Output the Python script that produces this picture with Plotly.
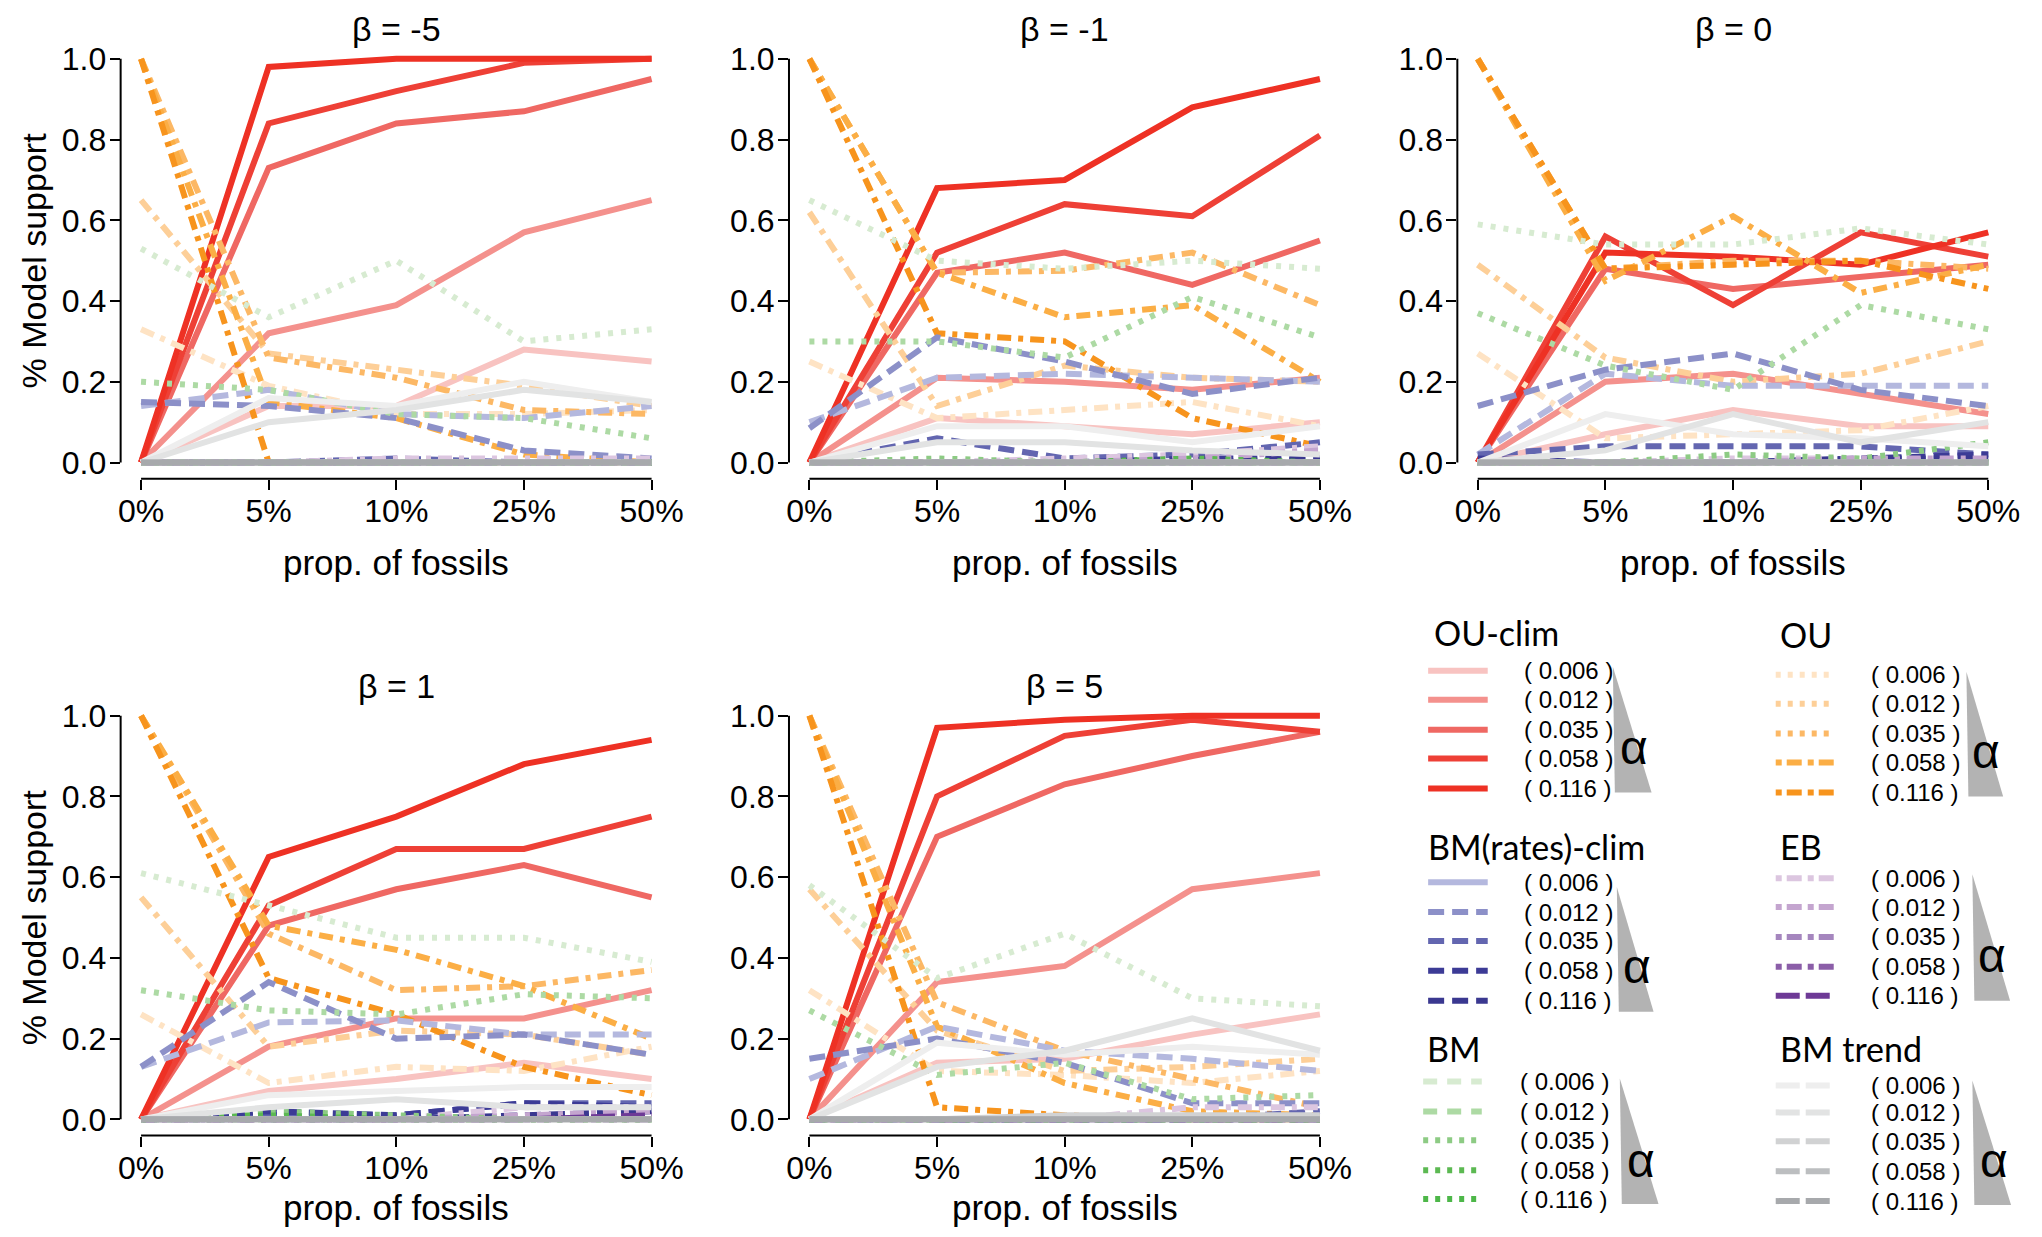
import plotly.graph_objects as go

# page is 2042x1237, the html body keeps an 8px margin round the figure
MARGE = 8
W, H = 2042 - 2 * MARGE, 1237 - 2 * MARGE

proportions = ["0%", "5%", "10%", "25%", "50%"]
alpha_values = ["0.006", "0.012", "0.035", "0.058", "0.116"]
beta_titles = ["β = -5", "β = -1", "β = 0", "β = 1", "β = 5"]
model_names = ["OU-clim", "OU", "BM(rates)-clim", "EB", "BM", "BM trend"]

# model support, one row per alpha (0.006, 0.012, 0.035, 0.058, 0.116)
# beta = -5
ouclim_m5 = [[0, 0.14, 0.14, 0.28, 0.25], [0, 0.32, 0.39, 0.57, 0.65], [0, 0.73, 0.84, 0.87, 0.95],
             [0, 0.84, 0.92, 0.99, 1.0], [0, 0.98, 1.0, 1.0, 1.0]]
ou_m5 = [[0.33, 0.19, 0.12, 0.12, 0.13], [0.65, 0.27, 0.23, 0.19, 0.14], [1.0, 0.26, 0.21, 0.13, 0.12],
         [1.0, 0.15, 0.11, 0.02, 0.0], [1.0, 0.0, 0.0, 0.0, 0.0]]
bmr_m5 = [[0.14, 0.18, 0.12, 0.11, 0.14], [0.15, 0.14, 0.11, 0.03, 0.01], [0, 0, 0.01, 0, 0],
          [0, 0, 0, 0, 0], [0, 0, 0, 0, 0]]
eb_m5 = [[0, 0, 0.01, 0.01, 0.01], [0, 0, 0, 0, 0], [0, 0, 0, 0, 0], [0, 0, 0, 0, 0], [0, 0, 0, 0, 0]]
bm_m5 = [[0.53, 0.36, 0.50, 0.30, 0.33], [0.20, 0.18, 0.12, 0.11, 0.06], [0, 0, 0, 0, 0],
         [0, 0, 0, 0, 0], [0, 0, 0, 0, 0]]
bmt_m5 = [[0, 0.16, 0.14, 0.20, 0.15], [0, 0.10, 0.13, 0.18, 0.15], [0, 0, 0, 0, 0],
          [0, 0, 0, 0, 0], [0, 0, 0, 0, 0]]

# beta = -1
ouclim_m1 = [[0, 0.11, 0.09, 0.07, 0.10], [0, 0.21, 0.20, 0.18, 0.21], [0, 0.47, 0.52, 0.44, 0.55],
             [0, 0.52, 0.64, 0.61, 0.81], [0, 0.68, 0.70, 0.88, 0.95]]
ou_m1 = [[0.25, 0.11, 0.13, 0.15, 0.09], [0.62, 0.14, 0.24, 0.21, 0.20], [1.0, 0.47, 0.475, 0.52, 0.39],
         [1.0, 0.47, 0.36, 0.39, 0.20], [1.0, 0.32, 0.30, 0.11, 0.04]]
bmr_m1 = [[0.10, 0.21, 0.22, 0.21, 0.20], [0.085, 0.31, 0.25, 0.17, 0.21], [0, 0.06, 0.01, 0.02, 0.05],
          [0, 0, 0, 0.01, 0.01], [0, 0, 0, 0, 0.01]]
eb_m1 = [[0, 0, 0.01, 0.02, 0.04], [0, 0, 0, 0.01, 0.03], [0, 0, 0, 0, 0], [0, 0, 0, 0, 0], [0, 0, 0, 0, 0]]
bm_m1 = [[0.65, 0.50, 0.48, 0.50, 0.48], [0.30, 0.30, 0.26, 0.41, 0.31], [0, 0.01, 0, 0, 0],
         [0, 0, 0, 0.01, 0], [0, 0, 0, 0, 0]]
bmt_m1 = [[0, 0.09, 0.09, 0.05, 0.09], [0, 0.05, 0.05, 0.03, 0.02], [0, 0, 0, 0, 0],
          [0, 0, 0, 0, 0], [0, 0, 0, 0, 0]]

# beta = 0
ouclim_0 = [[0, 0.07, 0.13, 0.09, 0.09], [0, 0.20, 0.22, 0.17, 0.12], [0, 0.48, 0.43, 0.46, 0.49],
            [0, 0.56, 0.39, 0.57, 0.51], [0, 0.52, 0.51, 0.49, 0.57]]
ou_0 = [[0.27, 0.06, 0.07, 0.08, 0.14], [0.49, 0.26, 0.20, 0.22, 0.30], [1.0, 0.48, 0.50, 0.50, 0.48],
        [1.0, 0.45, 0.61, 0.42, 0.49], [1.0, 0.48, 0.49, 0.50, 0.43]]
bmr_0 = [[0.02, 0.22, 0.19, 0.19, 0.19], [0.14, 0.23, 0.27, 0.18, 0.14], [0.02, 0.04, 0.04, 0.04, 0.02],
         [0.01, 0, 0, 0.01, 0.02], [0, 0, 0, 0.01, 0.01]]
eb_0 = [[0, 0, 0.01, 0.01, 0], [0, 0, 0, 0.01, 0.01], [0, 0, 0, 0, 0], [0, 0, 0, 0, 0], [0, 0, 0, 0, 0]]
bm_0 = [[0.59, 0.54, 0.54, 0.58, 0.54], [0.37, 0.24, 0.18, 0.39, 0.33], [0, 0, 0.02, 0.01, 0.05],
        [0, 0, 0, 0, 0], [0, 0, 0, 0, 0]]
bmt_0 = [[0, 0.12, 0.07, 0.06, 0.04], [0, 0.03, 0.12, 0.05, 0.10], [0, 0, 0, 0, 0],
         [0, 0, 0, 0, 0], [0, 0, 0, 0, 0]]

# beta = 1
ouclim_p1 = [[0, 0.07, 0.10, 0.14, 0.10], [0, 0.18, 0.25, 0.25, 0.32], [0, 0.48, 0.57, 0.63, 0.55],
             [0, 0.53, 0.67, 0.67, 0.75], [0, 0.65, 0.75, 0.88, 0.94]]
ou_p1 = [[0.26, 0.09, 0.13, 0.12, 0.18], [0.55, 0.18, 0.22, 0.21, 0.16], [1.0, 0.46, 0.32, 0.33, 0.37],
         [1.0, 0.48, 0.42, 0.33, 0.20], [1.0, 0.35, 0.26, 0.13, 0.06]]
bmr_p1 = [[0.13, 0.24, 0.245, 0.21, 0.21], [0.13, 0.34, 0.20, 0.21, 0.16], [0, 0.01, 0.01, 0.04, 0.04],
          [0, 0.02, 0.01, 0.04, 0.03], [0, 0, 0, 0.01, 0.02]]
eb_p1 = [[0, 0, 0, 0.03, 0.03], [0, 0, 0, 0.01, 0.02], [0, 0, 0, 0, 0], [0, 0, 0, 0, 0], [0, 0, 0, 0, 0.01]]
bm_p1 = [[0.61, 0.53, 0.45, 0.45, 0.39], [0.32, 0.27, 0.26, 0.31, 0.30], [0, 0.02, 0.01, 0, 0],
         [0, 0.01, 0, 0, 0], [0, 0, 0, 0, 0]]
bmt_p1 = [[0, 0.06, 0.07, 0.08, 0.08], [0, 0.03, 0.05, 0.03, 0.03], [0, 0, 0, 0, 0],
          [0, 0, 0, 0, 0], [0, 0, 0, 0, 0]]

# beta = 5
ouclim_p5 = [[0, 0.14, 0.15, 0.21, 0.26], [0, 0.34, 0.38, 0.57, 0.61], [0, 0.70, 0.83, 0.90, 0.96],
             [0, 0.80, 0.95, 0.99, 0.96], [0, 0.97, 0.99, 1.0, 1.0]]
ou_p5 = [[0.32, 0.12, 0.11, 0.09, 0.12], [0.57, 0.22, 0.12, 0.13, 0.15], [1.0, 0.29, 0.17, 0.10, 0.03],
         [1.0, 0.23, 0.09, 0.02, 0.01], [1.0, 0.03, 0.01, 0.0, 0.0]]
bmr_p5 = [[0.10, 0.23, 0.17, 0.15, 0.12], [0.15, 0.20, 0.14, 0.04, 0.04], [0, 0, 0, 0, 0.02],
          [0, 0, 0, 0, 0], [0, 0, 0, 0, 0]]
eb_p5 = [[0, 0, 0, 0.03, 0.03], [0, 0, 0, 0, 0], [0, 0, 0, 0, 0], [0, 0, 0, 0, 0], [0, 0, 0, 0, 0]]
bm_p5 = [[0.58, 0.35, 0.46, 0.30, 0.28], [0.27, 0.11, 0.14, 0.05, 0.06], [0, 0, 0, 0, 0],
         [0, 0, 0, 0, 0], [0, 0, 0, 0, 0]]
bmt_p5 = [[0, 0.19, 0.16, 0.18, 0.16], [0, 0.13, 0.17, 0.25, 0.17], [0, 0, 0.01, 0.01, 0.01],
          [0, 0, 0, 0, 0], [0, 0, 0, 0, 0]]

panels = [
    [ouclim_m5, ou_m5, bmr_m5, eb_m5, bm_m5, bmt_m5],
    [ouclim_m1, ou_m1, bmr_m1, eb_m1, bm_m1, bmt_m1],
    [ouclim_0, ou_0, bmr_0, eb_0, bm_0, bmt_0],
    [ouclim_p1, ou_p1, bmr_p1, eb_p1, bm_p1, bmt_p1],
    [ouclim_p5, ou_p5, bmr_p5, eb_p5, bm_p5, bmt_p5],
]

couleurs = [
    ["#F8C3C1", "#F4918D", "#EF6863", "#EE4036", "#EE3124"],
    ["#FEE3C4", "#FDCF98", "#FCB865", "#FBAE45", "#F7941D"],
    ["#B4B8DE", "#8C90C8", "#6366B0", "#3C3B96", "#3A3890"],
    ["#DCC6E0", "#C4A5CF", "#A586BE", "#8B5EA8", "#6E3A96"],
    ["#D7EBD1", "#ADDAA4", "#8DCB84", "#5CB952", "#4DB749"],
    ["#EEEEEE", "#E2E3E3", "#D1D2D3", "#BCBEC0", "#A7A9AC"],
]

DOT = "5px,7px"
DASHDOT = "14px,7px,5px,7px"
DASH = "16px,8px"
LDASH = "24px,6px"
LEG_DASHDOT = "6px,5px,15px,6px"

trait_graph = [
    ["solid"] * 5,
    [DASHDOT] * 5,
    [DASH] * 5,
    [DASHDOT] * 4 + [LDASH],
    ["5px,8px"] * 5,
    ["solid"] * 5,
]
trait_legende = [
    ["solid"] * 5,
    [DOT, DOT, DOT, LEG_DASHDOT, LEG_DASHDOT],
    ["solid", "16px,8px", "16px,8px", "16px,8px", "16px,8px"],
    [LEG_DASHDOT] * 4 + [LDASH],
    ["14px,10px", "14px,10px", DOT, DOT, DOT],
    [LDASH] * 5,
]


def px(x):
    return (x - MARGE) / W


def py(y):
    return 1 - (y - MARGE) / H


# panel placement in page pixels (left, right, top, bottom of plot region)
cadres = [
    (118.4, 673.6, 40.8, 478.2),
    (791.4, 1346.6, 40.8, 478.2),
    (1464.4, 2019.6, 40.8, 478.2),
    (118.4, 673.6, 699.8, 1137.2),
    (791.4, 1346.6, 699.8, 1137.2),
]
# centre line of the "prop. of fossils" titles, per panel
titre_x_y = [562, 562, 562, 1209, 1209]

police = "Liberation Sans, Arial, sans-serif"
fig = go.Figure()
shapes = []
annotations = []

for i, (donnees, cadre) in enumerate(zip(panels, cadres), start=1):
    sfx = "" if i == 1 else str(i)
    for m, series in enumerate(donnees):
        for a, valeurs in enumerate(series):
            fig.add_trace(go.Scatter(
                x=proportions, y=valeurs, mode="lines",
                line=dict(color=couleurs[m][a], width=6, dash=trait_graph[m][a]),
                xaxis="x" + sfx, yaxis="y" + sfx, showlegend=False, hoverinfo="skip"))
    l, r, t, b = cadre
    fig.update_layout(**{
        "xaxis" + sfx: dict(domain=[px(l), px(r)], anchor="y" + sfx, type="category",
                            categoryorder="array", categoryarray=proportions,
                            range=[-0.16, 4.16], showgrid=False, zeroline=False, showline=False,
                            ticks="outside", ticklen=10, tickwidth=2, tickcolor="black",
                            ticklabelstandoff=-6, tickfont=dict(family=police, size=32, color="black")),
        "yaxis" + sfx: dict(domain=[py(b), py(t)], anchor="x" + sfx, range=[-0.04, 1.04],
                            tickvals=[0, 0.2, 0.4, 0.6, 0.8, 1.0], tickformat=".1f",
                            showgrid=False, zeroline=False, showline=False,
                            ticks="outside", ticklen=10, tickwidth=2, tickcolor="black",
                            ticklabelstandoff=-3, tickfont=dict(family=police, size=32, color="black")),
    })
    # R style axis segments, from first to last tick
    shapes.append(dict(type="line", xref="x" + sfx + " domain", yref="y" + sfx, x0=0, x1=0, y0=0, y1=1,
                       line=dict(color="black", width=2)))
    shapes.append(dict(type="line", xref="x" + sfx, yref="y" + sfx + " domain", x0=0, x1=4, y0=0, y1=0,
                       line=dict(color="black", width=2)))
    cx = (l + r) / 2
    annotations.append(dict(text=beta_titles[i - 1], x=px(cx), y=py(t - 14), xref="paper", yref="paper",
                            showarrow=False, font=dict(family=police, size=34, color="black"),
                            xanchor="center", yanchor="middle"))
    annotations.append(dict(text="prop. of fossils", x=px(cx), y=py(titre_x_y[i - 1]), xref="paper",
                            yref="paper", showarrow=False, font=dict(family=police, size=35, color="black"),
                            xanchor="center", yanchor="middle"))
    if i in (1, 4):
        annotations.append(dict(text="% Model support", x=px(31), y=py((t + b) / 2), xref="paper",
                                yref="paper", showarrow=False, textangle=-90,
                                font=dict(family=police, size=34, color="black"),
                                xanchor="center", yanchor="middle"))

# legend blocks: title pos, row y, sample x span, label x, triangle, alpha pos
blocs = [
    ((1439, 633), [671, 700, 730, 759, 789], (1435, 1495), 1530, (1621, 667, 1660, 793), (1642, 748)),
    ((1787, 635), [675, 704, 734, 763, 793], (1785, 1844), 1879, (1977, 672, 2014, 797), (1997, 752)),
    ((1433, 847), [883, 913, 942, 972, 1002], (1435, 1495), 1530, (1625, 888, 1662, 1013), (1645, 968)),
    ((1787, 847), [879, 908, 938, 968, 997], (1785, 1844), 1879, (1983, 875, 2021, 1002), (2003, 957)),
    ((1432, 1050), [1083, 1113, 1142, 1172, 1201], (1430, 1489), 1525, (1628, 1080, 1667, 1206), (1649, 1162)),
    ((1787, 1050), [1087, 1114, 1143, 1173, 1203], (1785, 1844), 1879, (1983, 1082, 2022, 1207), (2005, 1162)),
]

for m, (titre, lignes, (sx0, sx1), lx, tri, apos) in enumerate(blocs):
    annotations.append(dict(text=model_names[m], x=px(titre[0]), y=py(titre[1]), xref="paper", yref="paper",
                            showarrow=False, xanchor="left", yanchor="middle",
                            font=dict(family="Lato, sans-serif", size=34, color="black")))
    for a, ly in enumerate(lignes):
        shapes.append(dict(type="line", xref="paper", yref="paper", x0=px(sx0), x1=px(sx1), y0=py(ly), y1=py(ly),
                           line=dict(color=couleurs[m][a], width=6, dash=trait_legende[m][a])))
        annotations.append(dict(text="( " + alpha_values[a] + " )", x=px(lx), y=py(ly), xref="paper",
                                yref="paper", showarrow=False, xanchor="left", yanchor="middle",
                                font=dict(family=police, size=24, color="black")))
    tx0, ty0, tx1, ty1 = tri
    chemin = "M {} {} L {} {} L {} {} Z".format(px(tx0), py(ty0), px(tx1), py(ty1), px(tx0 + 2), py(ty1))
    shapes.append(dict(type="path", xref="paper", yref="paper", path=chemin,
                       fillcolor="#B3B3B3", line=dict(width=0)))
    annotations.append(dict(text="α", x=px(apos[0]), y=py(apos[1]), xref="paper", yref="paper",
                            showarrow=False, xanchor="center", yanchor="middle",
                            font=dict(family=police, size=48, color="black")))

fig.update_layout(width=W, height=H, margin=dict(l=0, r=0, t=0, b=0),
                  paper_bgcolor="white", plot_bgcolor="white",
                  shapes=shapes, annotations=annotations)
fig.write_html("out.html")
